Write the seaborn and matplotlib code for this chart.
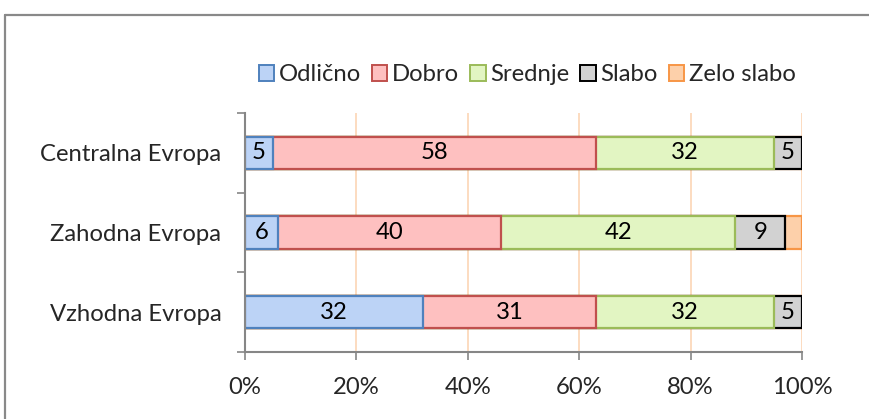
import numpy as np
import pandas as pd
import seaborn as sns
import matplotlib.pyplot as plt
from matplotlib.patches import Patch
from matplotlib.lines import Line2D
from matplotlib.ticker import FixedLocator, PercentFormatter

regions = ['Centralna Evropa', 'Zahodna Evropa', 'Vzhodna Evropa']
grades = ['Odlično', 'Dobro', 'Srednje', 'Slabo', 'Zelo slabo']
odlicno = [5, 6, 32]
dobro = [58, 40, 31]
srednje = [32, 42, 32]
slabo = [5, 9, 5]
zelo_slabo = [0, 3, 0]

fills = ['#bcd3f6', '#fec0c0', '#e2f5c2', '#d2d2d2', '#fdd0aa']
edges = ['#4f81bd', '#c0504d', '#9bbb59', '#000000', '#f79646']

sns.set_style('white')
plt.rcParams['font.family'] = ['Lato', 'DejaVu Sans']
fs = 17.2

df = pd.DataFrame({'region': regions, 'Odlično': odlicno, 'Dobro': dobro,
                   'Srednje': srednje, 'Slabo': slabo, 'Zelo slabo': zelo_slabo})
cum = df[grades].cumsum(axis=1)

fig = plt.figure(figsize=(8.7, 4.19), dpi=100)
fig.patch.set_linewidth(0)
ax = fig.add_axes([0.2816, 0.160, 0.9218 - 0.2816, 0.730 - 0.160])

# draw cumulative bars from the longest to the shortest so they stack
for i in reversed(range(len(grades))):
    sns.barplot(x=cum[grades[i]], y=df['region'], orient='h', color=fills[i],
                edgecolor=edges[i], linewidth=1.6, width=0.41, ax=ax,
                saturation=1)

# segment labels
for i, g in enumerate(grades):
    for j in range(len(regions)):
        v = df[g][j]
        if v >= 5:
            ax.text(cum[g][j] - v / 2, j, str(v), ha='center', va='center',
                    fontsize=fs, color='black')

ax.set_xlim(0, 100)
ax.set_ylim(2.5, -0.5)
ax.xaxis.set_major_locator(FixedLocator([0, 20, 40, 60, 80, 100]))
ax.xaxis.set_major_formatter(PercentFormatter(100, decimals=0))
ax.set_xlabel('')
ax.set_ylabel('')
ax.yaxis.set_minor_locator(FixedLocator([-0.5, 0.5, 1.5, 2.5]))
ax.tick_params(axis='y', which='major', length=0, pad=17, labelsize=fs)
ax.tick_params(axis='y', which='minor', left=True, length=6, width=1.2, color='#868686')
ax.tick_params(axis='x', bottom=True, length=6, width=1.2, color='#868686', pad=12,
               labelsize=fs)

ax.grid(axis='x', color='#fcd5b5', linewidth=1.2)
ax.set_axisbelow(True)
for s in ['top', 'right']:
    ax.spines[s].set_visible(False)
for s in ['left', 'bottom']:
    ax.spines[s].set_color('#868686')
    ax.spines[s].set_linewidth(1.5)

handles = [Patch(facecolor=fills[i], edgecolor=edges[i], linewidth=1.4, label=grades[i])
           for i in range(len(grades))]
fig.legend(handles=handles, loc='center', bbox_to_anchor=(0.606, 0.822), ncol=5,
           frameon=False, fontsize=fs, handlelength=0.65, handleheight=0.65,
           handletextpad=0.2, columnspacing=0.45)

# chart-area border: only top and left edges are inside the image
top = 1 - 15.5 / 419
left = 5.5 / 870
fig.add_artist(Line2D([left, 1.0], [top, top], transform=fig.transFigure,
                      color='#898989', linewidth=1.6))
fig.add_artist(Line2D([left, left], [0.0, top], transform=fig.transFigure,
                      color='#898989', linewidth=1.6))

fig.savefig('out.png', dpi=100)
